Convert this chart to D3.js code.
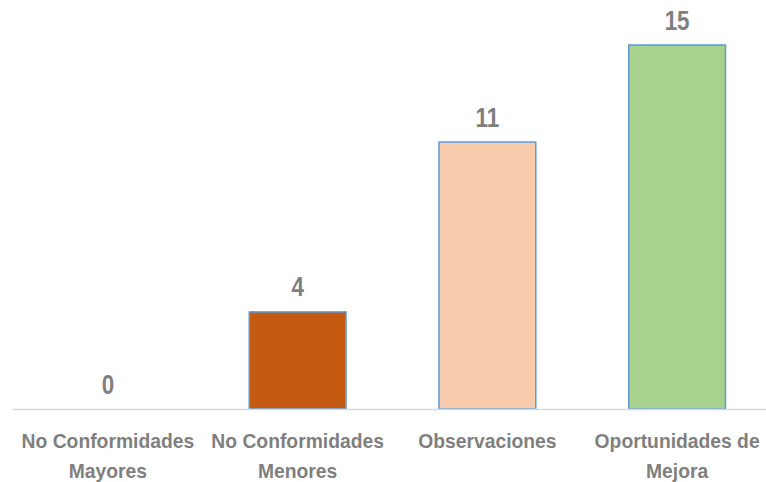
<!DOCTYPE html>
<html>
<head>
<meta charset="utf-8">
<script src="https://cdn.jsdelivr.net/npm/d3@7"></script>
<style>
  body { margin: 0; background: #fff; }
  text { font-family: "Liberation Sans", Arial, sans-serif; font-weight: bold; fill: #7f7f7f; }
</style>
</head>
<body>
<svg id="chart" width="766" height="482"></svg>
<script>
// datos del gráfico
var categories = [["No Conformidades", "Mayores"], ["No Conformidades", "Menores"], ["Observaciones"], ["Oportunidades de", "Mejora"]];
var values = [0, 4, 11, 15];
var colors = ["#c55a11", "#c55a11", "#f8cbad", "#a9d18e"];

var svg = d3.select("#chart");

var x = d3.scaleBand()
    .domain(d3.range(values.length))
    .range([13, 772])
    .paddingInner(0.49)
    .paddingOuter(0.245);

var y = d3.scaleLinear()
    .domain([0, 15])
    .range([409, 45]);

// barras
svg.append("g")
    .selectAll("rect")
    .data(values)
    .enter()
    .append("rect")
    .attr("x", function (d, i) { return x(i); })
    .attr("y", function (d) { return y(d); })
    .attr("width", x.bandwidth())
    .attr("height", function (d) { return y(0) - y(d); })
    .style("fill", function (d, i) { return colors[i]; })
    .style("stroke", function (d) { return d > 0 ? "#5b9bd5" : "none"; })
    .style("stroke-width", 1.5);

// eje x
svg.append("line")
    .attr("x1", 13).attr("x2", 766)
    .attr("y1", y(0) + 0.5).attr("y2", y(0) + 0.5)
    .style("stroke", "#d9d9d9")
    .style("stroke-width", 1.5);

// etiquetas de valores (fuente estrecha, se comprime en x)
svg.append("g")
    .selectAll("text")
    .data(values)
    .enter()
    .append("text")
    .attr("transform", function (d, i) {
        return "translate(" + (x(i) + x.bandwidth() / 2) + "," + (y(d) - 15.5) + ") scale(0.83,1)";
    })
    .attr("text-anchor", "middle")
    .style("font-size", "27px")
    .text(function (d) { return d; });

// etiquetas de categorías
var cats = svg.append("g")
    .selectAll("text")
    .data(categories)
    .enter()
    .append("text")
    .attr("transform", function (d, i) {
        return "translate(" + (x(i) + x.bandwidth() / 2) + ",448) scale(0.965,1)";
    })
    .attr("text-anchor", "middle")
    .style("font-size", "20px");

cats.selectAll("tspan")
    .data(function (d) { return d; })
    .enter()
    .append("tspan")
    .attr("x", 0)
    .attr("y", function (d, j) { return j * 30; })
    .text(function (d) { return d; });
</script>
</body>
</html>
